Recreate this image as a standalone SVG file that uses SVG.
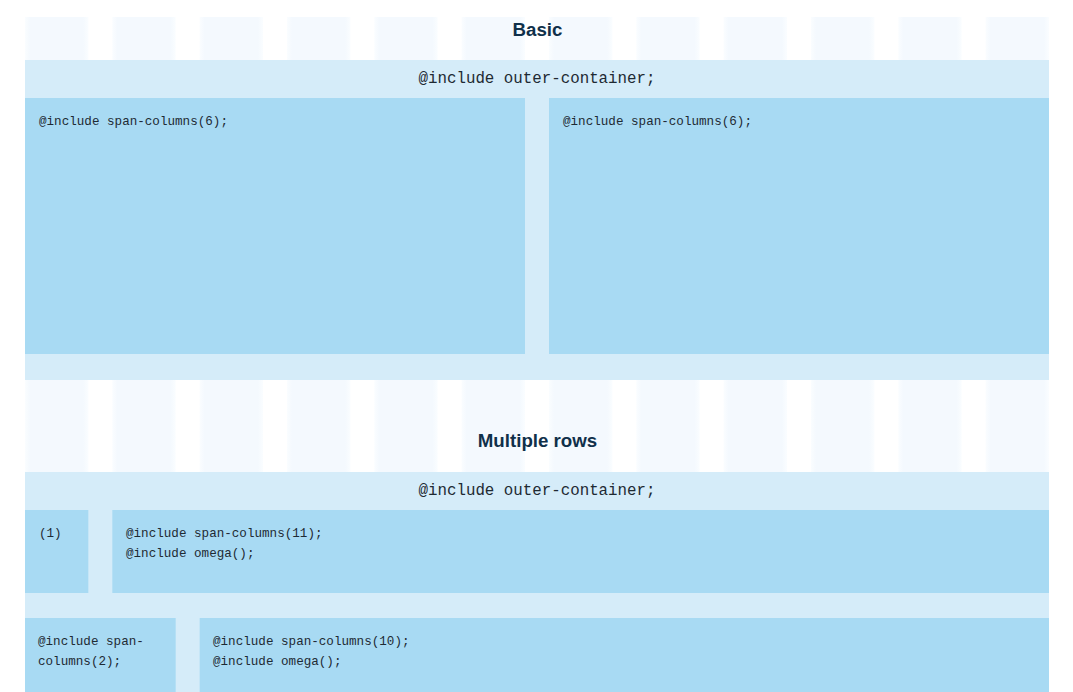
<svg xmlns="http://www.w3.org/2000/svg" width="1073" height="692" viewBox="0 0 1073 692">
<style>
.col{fill:url(#colg)}
.outer{fill:#d5ecf9}
.box{fill:#a8daf3}
.title{font-family:"Liberation Sans",Arial,sans-serif;font-weight:bold;font-size:18.7px;fill:#10304a;text-anchor:middle}
.oc{font-family:"Liberation Mono","Courier New",monospace;font-size:15.8px;fill:#1e2a33;text-anchor:middle}
.code{font-family:"Liberation Mono","Courier New",monospace;font-size:12.6px;fill:#1e2a33}
</style>
<defs>
<linearGradient id="colg" x1="0" y1="0" x2="1" y2="0">
<stop offset="0" stop-color="#fafdff"/>
<stop offset="0.08" stop-color="#f4f9fe"/>
<stop offset="0.92" stop-color="#f4f9fe"/>
<stop offset="1" stop-color="#fafdff"/>
</linearGradient>
<g id="cols">
<rect class="col" x="25" width="63.33" height="1"/>
<rect class="col" x="112.33" width="63.33" height="1"/>
<rect class="col" x="199.67" width="63.33" height="1"/>
<rect class="col" x="287" width="63.33" height="1"/>
<rect class="col" x="374.33" width="63.33" height="1"/>
<rect class="col" x="461.67" width="63.33" height="1"/>
<rect class="col" x="549" width="63.33" height="1"/>
<rect class="col" x="636.33" width="63.33" height="1"/>
<rect class="col" x="723.67" width="63.33" height="1"/>
<rect class="col" x="811" width="63.33" height="1"/>
<rect class="col" x="898.33" width="63.33" height="1"/>
<rect class="col" x="985.67" width="63.33" height="1"/>
</g>
</defs>
<rect width="1073" height="692" fill="#ffffff"/>
<g id="grid-basic">
<use href="#cols" transform="translate(0,17) scale(1,43)"/>
</g>
<g id="grid-multiple">
<use href="#cols" transform="translate(0,380) scale(1,92)"/>
</g>
<g id="title-basic"><text class="title" x="537.5" y="36">Basic</text></g>
<g id="container-basic">
<rect class="outer" x="25" y="60" width="1024" height="320"/>
<text class="oc" x="537" y="83">@include outer-container;</text>
</g>
<g id="basic-left">
<rect class="box" x="25" y="98" width="500" height="256"/>
<text class="code" x="39" y="125">@include span-columns(6);</text>
</g>
<g id="basic-right">
<rect class="box" x="549" y="98" width="500" height="256"/>
<text class="code" x="563" y="125">@include span-columns(6);</text>
</g>
<g id="title-multiple"><text class="title" x="537.5" y="446.5">Multiple rows</text></g>
<g id="container-multiple">
<rect class="outer" x="25" y="472" width="1024" height="220"/>
<text class="oc" x="537" y="495">@include outer-container;</text>
</g>
<g id="row1-a">
<rect class="box" x="25" y="510" width="63.33" height="83"/>
<text class="code" x="39" y="537">(1)</text>
</g>
<g id="row1-b">
<rect class="box" x="112.33" y="510" width="936.67" height="83"/>
<text class="code" x="126" y="537">@include span-columns(11);</text>
<text class="code" x="126" y="557">@include omega();</text>
</g>
<g id="row2-a">
<rect class="box" x="25" y="618" width="150.67" height="74"/>
<text class="code" x="38" y="645">@include span-</text>
<text class="code" x="38" y="665">columns(2);</text>
</g>
<g id="row2-b">
<rect class="box" x="199.67" y="618" width="849.33" height="74"/>
<text class="code" x="213" y="645">@include span-columns(10);</text>
<text class="code" x="213" y="665">@include omega();</text>
</g>
<g id="connectors"></g>
</svg>
